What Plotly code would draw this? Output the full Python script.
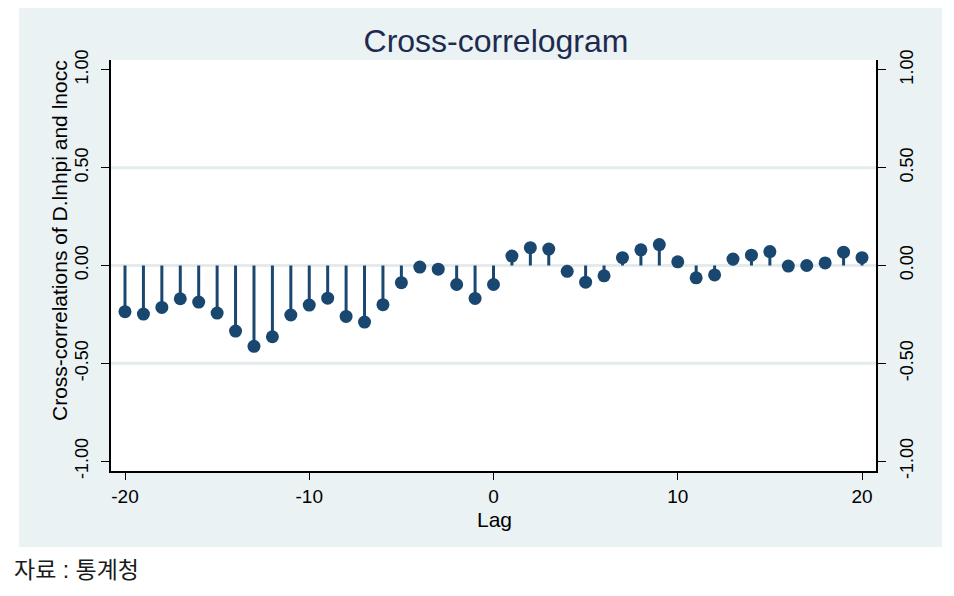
import plotly.graph_objects as go

# ---- data ----
lags = list(range(-20, 21))
ccf = [-0.236, -0.248, -0.214, -0.170, -0.187, -0.243, -0.335, -0.413, -0.364, -0.253,
       -0.202, -0.167, -0.260, -0.289, -0.200, -0.088, -0.008, -0.019, -0.097, -0.168,
       -0.097,
       0.048, 0.091, 0.084, -0.030, -0.085, -0.053, 0.040, 0.080, 0.107, 0.019,
       -0.063, -0.048, 0.033, 0.053, 0.071, -0.003, 0.000, 0.013, 0.068, 0.040]
x_ticks = [-20, -10, 0, 10, 20]
x_ticklabels = ["-20", "-10", "0", "10", "20"]
y_ticks = [-1.0, -0.5, 0.0, 0.5, 1.0]
y_ticklabels = ["-1.00", "-0.50", "0.00", "0.50", "1.00"]
grid_vals = [-0.5, 0.0, 0.5]

title_text = "Cross-correlogram"
x_title = "Lag"
y_title = "Cross-correlations of D.lnhpi and lnocc"
source_text = "자료 : 통계청"

NAVY = "#1a476f"
BG = "#eaf2f3"
GRID = "#e3ebec"
FONT = "Liberation Sans, Arial, sans-serif"

# page has an 8px body margin; figure coords = page coords - 8
OFF = 8
W, H = 954 - OFF, 596 - OFF
PL, PR, PT, PB = 111 - OFF, 876 - OFF, 60 - OFF, 471 - OFF
PW, PH = PR - PL, PB - PT


def px_x(page_x):
    return (page_x - OFF - PL) / PW


def px_y(page_y):
    return (PB - (page_y - OFF)) / PH


# stems built from data
sx, sy = [], []
for l, v in zip(lags, ccf):
    sx += [l, l, None]
    sy += [0, v, None]

fig = go.Figure()
fig.add_trace(go.Scatter(x=sx, y=sy, mode="lines",
                         line=dict(color=NAVY, width=3),
                         hoverinfo="skip", showlegend=False))
fig.add_trace(go.Scatter(x=lags, y=ccf, mode="markers",
                         marker=dict(color=NAVY, size=13, line=dict(width=0)),
                         showlegend=False))
# mirror trace for right axis
fig.add_trace(go.Scatter(x=lags, y=ccf, mode="markers", yaxis="y2",
                         marker=dict(color=NAVY, size=13, opacity=0),
                         hoverinfo="skip", showlegend=False))

shapes = [
    dict(type="rect", xref="paper", yref="paper",
         x0=px_x(19), x1=px_x(942), y0=px_y(547), y1=px_y(6),
         fillcolor=BG, line=dict(width=0), layer="below"),
    dict(type="rect", xref="paper", yref="paper", x0=0, x1=1, y0=0, y1=1,
         fillcolor="white", line=dict(width=0), layer="below"),
]
for g in grid_vals:
    shapes.append(dict(type="line", xref="paper", yref="y", x0=0, x1=1, y0=g, y1=g,
                       line=dict(color=GRID, width=3), layer="below"))

yax_common = dict(
    range=[-1.05, 1.05], tickvals=y_ticks, ticktext=y_ticklabels,
    tickangle=-90, ticks="outside", ticklen=8, tickwidth=1.2, tickcolor="black",
    showline=True, linecolor="black", linewidth=1.5,
    showgrid=False, zeroline=False,
    tickfont=dict(family=FONT, size=18, color="black"),
    ticklabelstandoff=6,
)

fig.update_layout(
    width=W, height=H,
    margin=dict(l=PL, r=W - PR, t=PT, b=H - PB),
    paper_bgcolor="white", plot_bgcolor="white",
    showlegend=False,
    title=dict(text=title_text, x=px_x(496), xref="paper", xanchor="center",
               y=1 - (41 - OFF) / H, yref="container", yanchor="middle",
               font=dict(family=FONT, size=32, color="#1e2b4f")),
    xaxis=dict(range=[-20.76, 20.76], tickvals=x_ticks, ticktext=x_ticklabels,
               ticks="outside", ticklen=7, tickwidth=1.2, tickcolor="black",
               showline=True, linecolor="black", linewidth=1.5,
               showgrid=False, zeroline=False,
               tickfont=dict(family=FONT, size=19, color="black"),
               ticklabelstandoff=0),
    yaxis=dict(**yax_common, side="left"),
    yaxis2=dict(**yax_common, side="right", overlaying="y"),
    shapes=shapes,
    annotations=[
        dict(text=y_title, xref="paper", yref="paper",
             x=px_x(59), y=px_y(241), textangle=-90,
             xanchor="center", yanchor="middle", showarrow=False,
             font=dict(family=FONT, size=21, color="black")),
        dict(text=x_title, xref="paper", yref="paper",
             x=px_x(494), y=px_y(519),
             xanchor="center", yanchor="middle", showarrow=False,
             font=dict(family=FONT, size=21, color="black")),
        dict(text=source_text, xref="paper", yref="paper",
             x=px_x(12), y=px_y(570),
             xanchor="left", yanchor="middle", showarrow=False,
             font=dict(family="Liberation Sans, Noto Sans CJK KR",
                       size=23, color="#1a1a1a")),
    ],
)

fig.write_html("out.html")
